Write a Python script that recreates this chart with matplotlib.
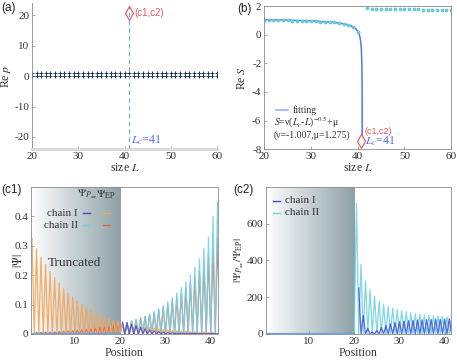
import numpy as np
import matplotlib
matplotlib.use("Agg")
import matplotlib.pyplot as plt
from matplotlib.colors import LinearSegmentedColormap

plt.rcParams['font.family'] = ['Liberation Serif', 'DejaVu Serif']
plt.rcParams['mathtext.fontset'] = 'stix'
plt.rcParams['font.size'] = 8
plt.rcParams['axes.unicode_minus'] = False

# ---- panel (a): Re p vs size L
L_a = list(range(20, 61))
rep_upper = [1.0] * len(L_a)
rep_lower = [0.0] * len(L_a)
L_c = 41
ep_a = 20.8

# ---- panel (b): Re S vs size L
L_b1 = list(range(20, 41))
S_b1 = [1.02, 1.02, 1.01, 1.01, 1.0, 1.0, 0.99, 0.98, 0.97, 0.96, 0.95,
        0.94, 0.92, 0.9, 0.88, 0.86, 0.82, 0.77, 0.69, 0.56, 0.18]
L_b2 = list(range(42, 61))
S_b2 = [1.85, 1.82, 1.8, 1.8, 1.79, 1.79, 1.78, 1.78, 1.78, 1.77, 1.77,
        1.77, 1.76, 1.76, 1.76, 1.76, 1.75, 1.75, 1.75]
L_fit = [20, 25, 30, 35, 37, 38, 39, 39.5, 40, 40.3, 40.5, 40.7, 40.8,
         40.9, 40.95, 40.97, 40.98, 40.985]
S_fit = [1.05, 1.02, 0.97, 0.86, 0.77, 0.69, 0.56, 0.45, 0.27, 0.07,
         -0.15, -0.56, -0.98, -1.91, -3.23, -4.55, -5.85, -7.0]
ep_b = -7.4

# ---- panel (c1): |Psi| vs position (peak values per cell)
ep_chain1 = [0.325, 0.29, 0.262, 0.236, 0.212, 0.191, 0.172, 0.155, 0.139,
             0.125, 0.113, 0.102, 0.091, 0.082, 0.074, 0.067, 0.06, 0.054,
             0.048, 0.044, 0.039, 0.035, 0.032, 0.029, 0.026, 0.023, 0.021,
             0.019, 0.017, 0.015, 0.014, 0.012, 0.011, 0.010, 0.009, 0.008,
             0.007, 0.006, 0.006, 0.005, 0.005]
ep_chain2 = ep_chain1[::-1]
p_chain1 = [0.04, 0.038, 0.033, 0.028, 0.022, 0.017, 0.013, 0.01, 0.008,
            0.006, 0.005, 0.004, 0.003, 0.003, 0.002, 0.002, 0.002, 0.001,
            0.001, 0.001, 0.001, 0.001]
p_chain2 = [0.035, 0.04, 0.045, 0.05, 0.055, 0.06, 0.068, 0.077, 0.087,
            0.098, 0.11, 0.124, 0.14, 0.158, 0.178, 0.2, 0.226, 0.255, 0.29,
            0.33, 0.4, 0.45]

# ---- panel (c2): |Psi_P / Psi_EP|
ratio_chain1 = [250, 100, 30, 10, 20, 35, 45, 55, 62, 66, 70, 72, 74, 76,
                77, 78, 79, 80, 80, 81, 82]
ratio_chain2 = [710, 380, 290, 240, 205, 180, 162, 150, 140, 132, 125, 120,
                115, 110, 107, 104, 101, 99, 97, 95, 93, 90]

c_blue = '#3b4fd8'
c_teal = '#72d2e2'
c_orange = '#f5a55a'
c_red = '#e8604c'
gray = '#8a8a8a'
txt = '#333333'


def zigzag(start, peaks, lead=None):
    # peaks at start, start+1, ... with zeros half way between
    x, y = [], []
    if lead is not None:
        x += [lead, start - 0.5]
        y += [0, 0]
    for i, p in enumerate(peaks):
        x += [start + i, start + i + 0.5]
        y += [p, 0]
    return x, y


def style(ax, box=True):
    for s in ax.spines.values():
        s.set_color(gray)
        s.set_linewidth(0.6)
    if not box:
        ax.spines['top'].set_visible(False)
        ax.spines['right'].set_visible(False)
    ax.tick_params(direction='in', length=2, width=0.5, colors=gray,
                   labelcolor=txt, labelsize=8, pad=2)


def shade(ax, x0, x1, y0, y1):
    cmap = LinearSegmentedColormap.from_list('tr', ['#ffffff', '#8da1a6'])
    grad = np.linspace(0, 1, 256)[None, :]
    ax.imshow(grad, extent=[x0, x1, y0, y1], aspect='auto', cmap=cmap,
              zorder=0)


fig = plt.figure(figsize=(4.57, 3.61), dpi=100)

# ---------------- (a)
ax = fig.add_axes([0.070, 0.587, 0.405, 0.404])
ax.plot(L_a, rep_upper, '+', color='#1d3a5c', ms=2.2, mew=0.7)
ax.plot(L_a, rep_lower, '+', color='#1d3a5c', ms=2.2, mew=0.7)
ax.plot([L_c, L_c], [-24, 23.5], '--', color='#7a9cf0', lw=0.8,
        dashes=(4, 3))
ax.plot([L_c], [ep_a], 'd', mfc='none', mec='#f0505a', ms=7, mew=0.8)
ax.text(42.2, ep_a, '(c1,c2)', color='#f0505a', fontsize=7,
        family='Liberation Sans', va='center')
ax.text(41.3, -22.3, r'$L_c$=41', color='#4a6cf5', fontsize=8.5)
ax.set_xlim(20, 60)
ax.set_ylim(-24, 24)
ax.set_xticks([20, 30, 40, 50, 60])
ax.set_yticks([-20, -10, 0, 10, 20])
style(ax, box=False)
ax.spines['bottom'].set_color('#d8d8d8')
ax.spines['bottom'].set_linewidth(2)
ax.set_xlabel(r'size $L$', color=txt, fontsize=8.5, labelpad=1)
ax.set_ylabel(r'Re $p$', color=txt, fontsize=8.5)
ax.yaxis.set_label_coords(-0.1, 0.5)

# ---------------- (b)
ax = fig.add_axes([0.578, 0.587, 0.409, 0.396])
ax.plot(L_fit, S_fit, '-', color='#4b7bec', lw=1.1)
ax.plot(L_b1, S_b1, '.', color='#6ccad6', ms=3.5)
ax.plot(L_b2, S_b2, '.', color='#6ccad6', ms=3.5)
ax.plot([40.8], [ep_b], 'd', mfc='none', mec='#f0505a', ms=7, mew=0.8)
ax.text(41.4, -6.75, '(c1,c2)', color='#f0505a', fontsize=6.5,
        family='Liberation Sans', va='center')
ax.text(41.5, -7.45, r'$L_c$=41', color='#4a6cf5', fontsize=8.5,
        va='center')
ax.plot([22.6, 25.2], [-5.3, -5.3], '-', color='#8fb0f5', lw=1.2)
ax.text(26, -5.3, 'fitting', color=txt, fontsize=7, va='center')
ax.text(22.1, -6.15, r'$S$=ν($L_c$-$L$)$^{-0.5}$+μ', color=txt,
        fontsize=7, va='center')
ax.text(22.1, -7.05, '(ν=-1.007,μ=1.275)', color=txt, fontsize=7,
        va='center')
ax.set_xlim(20, 60)
ax.set_ylim(-8, 2)
ax.set_xticks([20, 30, 40, 50, 60])
ax.set_yticks([-8, -6, -4, -2, 0, 2])
style(ax)
ax.set_xlabel(r'size $L$', color=txt, fontsize=8.5, labelpad=1)
ax.set_ylabel(r'Re $S$', color=txt, fontsize=8.5)
ax.yaxis.set_label_coords(-0.085, 0.5)

# ---------------- (c1)
ax = fig.add_axes([0.068, 0.075, 0.409, 0.407])
x0, x1 = 0.3, 41.6
shade(ax, x0, 20, 0, 0.5)
xs, ys = zigzag(1.5, ep_chain2)
ax.plot(xs, ys, color=c_red, lw=0.9, alpha=0.85)
xs, ys = zigzag(20.5, p_chain2, lead=x0)
ax.plot(xs, ys, color=c_teal, lw=0.9, alpha=0.9)
xs, ys = zigzag(0.5, ep_chain1)
ax.plot(xs, ys, color=c_orange, lw=0.9, alpha=0.9)
xs, ys = zigzag(20.5, p_chain1)
ax.plot(xs, ys, color=c_blue, lw=0.9, alpha=0.85)
ax.plot([x0, 20], [0, 0], color='#5aa6e6', lw=1.6)
ax.text(3.9, 0.243, 'Truncated', color=txt, fontsize=9.5, va='center')
ax.text(12.6, 0.475, r'$\Psi_{P_\infty}$', color=txt, fontsize=8,
        ha='center', va='center')
ax.text(16.9, 0.475, r'$\Psi_{\rm EP}$', color=txt, fontsize=8,
        ha='center', va='center')
ax.text(10.6, 0.41, 'chain I', color=txt, fontsize=8, ha='right',
        va='center')
ax.text(10.6, 0.37, 'chain II', color=txt, fontsize=8, ha='right',
        va='center')
ax.plot([11.8, 13.4], [0.41, 0.41], color=c_blue, lw=1)
ax.plot([11.8, 13.4], [0.37, 0.37], color=c_teal, lw=1)
ax.plot([16.1, 17.7], [0.41, 0.41], color=c_orange, lw=1)
ax.plot([16.1, 17.7], [0.37, 0.37], color=c_red, lw=1)
ax.set_xlim(x0, x1)
ax.set_ylim(0, 0.5)
ax.set_xticks([10, 20, 30, 40])
ax.set_yticks([0, 0.1, 0.2, 0.3, 0.4])
ax.set_yticklabels(['0', '0.1', '0.2', '0.3', '0.4'])
style(ax)
ax.set_xlabel('Position', color=txt, fontsize=8.5, labelpad=1)
ax.set_ylabel(r'$|\Psi|$', color=txt, fontsize=8.5)
ax.yaxis.set_label_coords(-0.03, 0.5)

# ---------------- (c2)
ax = fig.add_axes([0.582, 0.075, 0.405, 0.407])
x0, x1 = 0.5, 41.4
shade(ax, x0, 20, 0, 800)
xs, ys = zigzag(20.5, ratio_chain2, lead=x0)
ax.plot(xs, ys, color=c_teal, lw=0.9, alpha=0.9)
xs, ys = zigzag(21.0, ratio_chain1)
ax.plot(xs, ys, color=c_blue, lw=0.9, alpha=0.85)
ax.plot([x0, 20], [0, 0], color='#5aa6e6', lw=1.6)
ax.plot([2.0, 3.7], [726, 726], color=c_blue, lw=1)
ax.plot([2.0, 3.7], [659, 659], color=c_teal, lw=1)
ax.text(4.6, 726, 'chain I', color=txt, fontsize=8, va='center')
ax.text(4.6, 659, 'chain II', color=txt, fontsize=8, va='center')
ax.set_xlim(x0, x1)
ax.set_ylim(0, 800)
ax.set_xticks([10, 20, 30, 40])
ax.set_yticks([0, 200, 400, 600])
style(ax)
ax.set_xlabel('Position', color=txt, fontsize=8.5, labelpad=1)
ax.set_ylabel(r'$|\Psi_{P_\infty}/\Psi_{\rm EP}|$', color=txt, fontsize=8)
ax.yaxis.set_label_coords(-0.11, 0.5)

# panel labels
for lab, px, py in [('(a)', 1, 8), ('(b)', 237, 9), ('(c1)', 1, 190),
                    ('(c2)', 233, 190)]:
    fig.text(px / 457, 1 - py / 361, lab, fontsize=8.5,
             family='Liberation Sans', color='#222222', va='center')

fig.savefig('out.png', dpi=100)
